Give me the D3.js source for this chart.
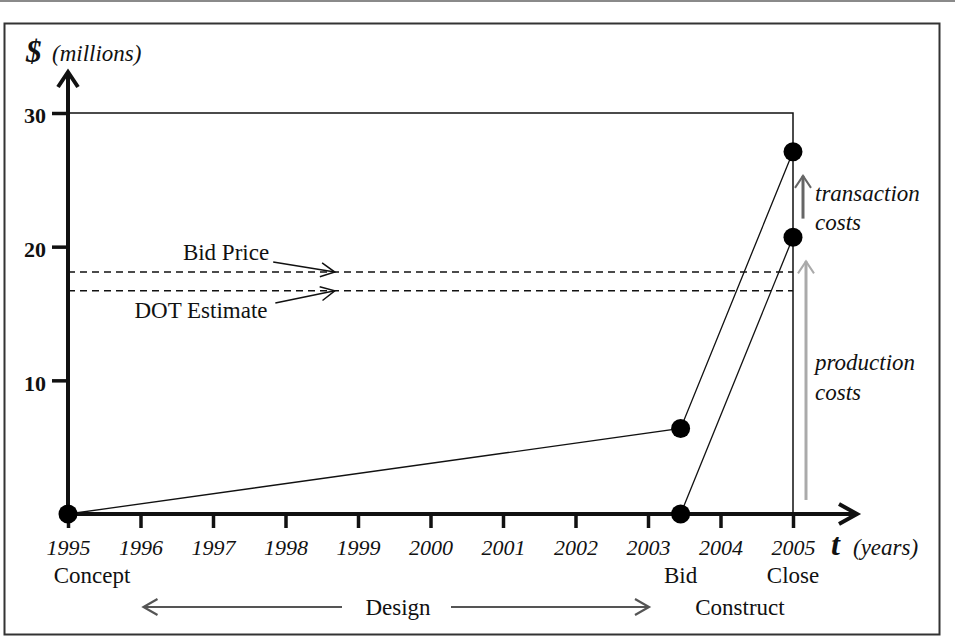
<!DOCTYPE html>
<html>
<head>
<meta charset="utf-8">
<script src="https://cdn.jsdelivr.net/npm/d3@7"></script>
<style>
  html, body { margin: 0; padding: 0; background: #fff; }
  svg { display: block; }
  text { font-family: "Liberation Serif", "Times New Roman", serif; fill: #111; }
</style>
</head>
<body>
<svg id="chart" width="955" height="638"></svg>
<script>
// ---- data ----
const years = [1995, 1996, 1997, 1998, 1999, 2000, 2001, 2002, 2003, 2004, 2005];
const yTicks = [10, 20, 30];
const designLine = [[1995, 0], [2003.45, 6.4], [2005, 27.1]];
const constructLine = [[2003.45, 0], [2005, 20.7]];
const dots = [[1995, 0], [2003.45, 6.4], [2003.45, 0], [2005, 27.1], [2005, 20.7]];
const bidPrice = 18.1;
const dotEstimate = 16.7;
const budgetCap = 30;
const closeYear = 2005;
const milestoneNames = ["Concept", "Bid", "Close"];
const milestoneYears = [1995, 2003.45, 2005];
const phaseNames = ["Design", "Construct"];

const W = 955, H = 638;
const svg = d3.select("#chart");

const x = d3.scaleLinear().domain([1995, 2005]).range([68, 793]);
const y = d3.scaleLinear().domain([0, 30]).range([514, 113]);

// helper: open arrowhead
function arrowHead(g, x1, y1, x2, y2, len, half, color, width) {
  const a = Math.atan2(y2 - y1, x2 - x1);
  const bx = x2 - len * Math.cos(a), by = y2 - len * Math.sin(a);
  const px = -Math.sin(a) * half, py = Math.cos(a) * half;
  g.append("path")
    .attr("d", `M${bx + px},${by + py}L${x2},${y2}L${bx - px},${by - py}`)
    .attr("fill", "none").attr("stroke", color).attr("stroke-width", width)
    .attr("stroke-linejoin", "miter");
}
function arrow(g, x1, y1, x2, y2, opts) {
  g.append("line").attr("x1", x1).attr("y1", y1).attr("x2", x2).attr("y2", y2)
    .attr("stroke", opts.color).attr("stroke-width", opts.width);
  arrowHead(g, x1, y1, x2, y2, opts.len, opts.half, opts.color, opts.hw || opts.width);
}

// page top rule + frame
svg.append("line").attr("x1", 0).attr("x2", W).attr("y1", 1).attr("y2", 1)
  .attr("stroke", "#8a8a8a").attr("stroke-width", 2);
svg.append("rect").attr("x", 4.5).attr("y", 23.5).attr("width", 935).attr("height", 611)
  .attr("fill", "none").attr("stroke", "#333").attr("stroke-width", 2);

const g = svg.append("g");

// budget box (30 line and close vertical)
g.append("path")
  .attr("d", `M${x(1995)},${y(budgetCap)}H${x(closeYear)}V${y(0)}`)
  .attr("fill", "none").attr("stroke", "#111").attr("stroke-width", 1.5);

// dashed reference lines
[bidPrice, dotEstimate].forEach(v => {
  g.append("line").attr("x1", x(1995)).attr("x2", x(closeYear))
    .attr("y1", y(v)).attr("y2", y(v))
    .attr("stroke", "#111").attr("stroke-width", 1.4).attr("stroke-dasharray", "7,5");
});

// series lines
const line = d3.line().x(d => x(d[0])).y(d => y(d[1]));
[designLine, constructLine].forEach(s => {
  g.append("path").attr("d", line(s)).attr("fill", "none")
    .attr("stroke", "#111").attr("stroke-width", 1.3);
});

// x axis
const xAxis = d3.axisBottom(x).tickValues(years).tickFormat(d3.format("d"))
  .tickSize(14).tickPadding(11);
const gx = g.append("g").attr("transform", `translate(0,${y(0)})`).call(xAxis);
gx.select(".domain").remove();
gx.selectAll(".tick line").attr("stroke", "#111").attr("stroke-width", 3.5);
gx.selectAll(".tick text").attr("font-family", "Liberation Serif, serif")
  .attr("font-style", "italic").attr("font-size", 22).attr("fill", "#111");

// y axis
const yAxis = d3.axisLeft(y).tickValues(yTicks).tickSize(16).tickPadding(6);
const gy = g.append("g").attr("transform", `translate(${x(1995)},0)`).call(yAxis);
gy.select(".domain").remove();
gy.selectAll(".tick line").attr("stroke", "#111").attr("stroke-width", 3.5);
gy.selectAll(".tick text").attr("font-family", "Liberation Serif, serif")
  .attr("font-weight", "bold").attr("font-size", 22).attr("fill", "#111")
  .attr("dy", "0.45em");

// axis lines with arrows
const xEnd = x.range()[1] + 64;
const yTop = y.range()[1] - 41;
arrow(g, x(1995), y(0), xEnd, y(0), { color: "#111", width: 4, len: 18, half: 10, hw: 4 });
arrow(g, x(1995), y(0), x(1995), yTop, { color: "#111", width: 4, len: 15, half: 10, hw: 4 });

// dots
g.selectAll("circle.pt").data(dots).enter().append("circle")
  .attr("class", "pt").attr("cx", d => x(d[0])).attr("cy", d => y(d[1]))
  .attr("r", 9.5).attr("fill", "#000");

// axis titles
svg.append("text").attr("x", 26).attr("y", 62).attr("font-size", 31)
  .attr("font-style", "italic").attr("font-weight", "bold").text("$");
svg.append("text").attr("x", 52).attr("y", 61).attr("font-size", 23)
  .attr("font-style", "italic").text("(millions)");
svg.append("text").attr("x", 831).attr("y", 555).attr("font-size", 32)
  .attr("font-style", "italic").attr("font-weight", "bold").text("t");
svg.append("text").attr("x", 853).attr("y", 555).attr("font-size", 23)
  .attr("font-style", "italic").text("(years)");

// milestones
milestoneNames.forEach((name, i) => {
  svg.append("text").attr("x", x(milestoneYears[i]) + (i === 0 ? 24 : 0)).attr("y", 583)
    .attr("text-anchor", "middle").attr("font-size", 23).text(name);
});

// phases
const phaseY = 607;
svg.append("text").attr("x", 398).attr("y", 615).attr("text-anchor", "middle")
  .attr("font-size", 23).text(phaseNames[0]);
svg.append("text").attr("x", 740).attr("y", 615).attr("text-anchor", "middle")
  .attr("font-size", 23).text(phaseNames[1]);
arrow(svg, 342, phaseY, x(1996) + 3, phaseY, { color: "#555", width: 2.2, len: 14, half: 8 });
arrow(svg, 451, phaseY, x(2003) + 1, phaseY, { color: "#555", width: 2.2, len: 14, half: 8 });

// Bid Price / DOT Estimate labels
svg.append("text").attr("x", 226).attr("y", 260).attr("text-anchor", "middle")
  .attr("font-size", 23).text("Bid Price");
svg.append("text").attr("x", 201).attr("y", 318).attr("text-anchor", "middle")
  .attr("font-size", 23).text("DOT Estimate");
arrow(svg, x(1997.83), y(18.85), x(1998.68), y(bidPrice), { color: "#111", width: 1.5, len: 14, half: 7 });
arrow(svg, x(1997.86), y(15.78), x(1998.68), y(dotEstimate), { color: "#111", width: 1.5, len: 14, half: 7 });

// cost arrows
arrow(svg, x(closeYear) + 10, y(22.1), x(closeYear) + 10, y(25.3), { color: "#666", width: 3, len: 12, half: 8, hw: 2 });
arrow(svg, x(closeYear) + 13, y(1.05), x(closeYear) + 13, y(18.9), { color: "#aaa", width: 3, len: 12, half: 8, hw: 2 });

// cost labels
const costText = [["transaction", 201], ["costs", 230], ["production", 370], ["costs", 400]];
costText.forEach(([t, yy]) => {
  svg.append("text").attr("x", 815).attr("y", yy).attr("font-size", 23)
    .attr("font-style", "italic").text(t);
});
</script>
</body>
</html>
